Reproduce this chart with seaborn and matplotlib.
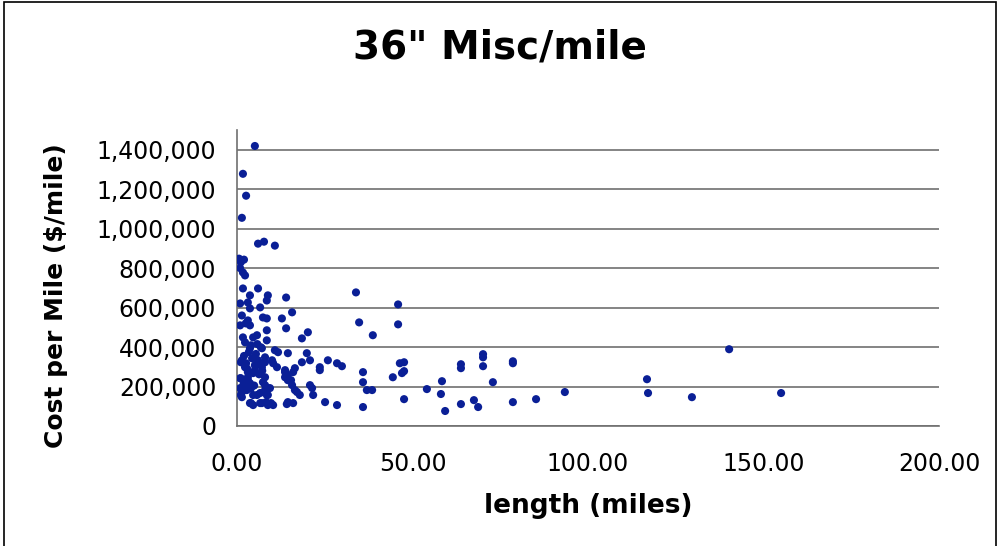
"""
36" Misc/mile -- cout par mile vs longueur du pipeline
"""

import matplotlib
matplotlib.use('Agg')
import matplotlib.pyplot as plt
from matplotlib.patches import Rectangle
from matplotlib.ticker import FuncFormatter, MultipleLocator
import seaborn as sns
import pandas as pd

# length (miles)
length_mi = [
    5.1, 1.7, 2.6, 1.4, 6.0, 7.7, 10.8, 0.6, 1.1, 2.0, 0.9, 1.7, 2.3,
    1.7, 3.7, 6.0, 8.8, 8.5, 0.9, 3.1, 14.0, 3.7, 6.6, 15.7, 1.4, 7.4, 8.5,
    12.8, 0.9, 3.1, 3.7, 8.5, 14.0, 20.2, 18.5, 1.7, 4.6, 5.7, 2.3, 8.5, 3.7,
    7.1, 10.8, 11.7, 14.5, 19.9, 1.4, 4.3, 6.0, 8.0, 10.0, 18.5, 20.8, 25.9,
    28.5, 29.9, 2.3, 5.1, 7.1, 11.4, 16.5, 23.6, 13.7, 16.0, 23.6, 0.9, 3.1,
    4.6, 8.0, 13.7, 14.5, 2.3, 3.7, 8.0, 8.8, 15.7, 20.8, 21.4, 1.4, 2.8, 5.7,
    6.6, 17.1, 17.9, 21.7, 1.4, 8.5, 25.1, 3.7, 4.6, 7.1, 8.8, 10.3, 14.2,
    16.0, 28.5,
    4.0, 6.8, 1.1, 2.6, 6.0, 8.0, 10.3, 3.1, 5.1, 13.7, 14.5, 1.1, 3.1, 7.4,
    15.4, 0.9, 2.3, 4.0, 8.0, 9.4, 16.5, 1.1, 4.6, 8.8, 4.0, 6.6, 8.3, 9.7,
    14.5, 2.0, 5.4, 2.9, 6.3, 1.9, 4.9, 3.4, 7.2, 2.5, 5.8,
    33.9, 45.9, 34.8, 45.9, 38.7, 35.9, 35.9, 37.0, 38.5, 35.9, 44.4, 46.4,
    47.6, 47.0, 47.6, 47.6, 54.1, 58.4, 58.1, 59.3, 63.8, 63.8, 63.8, 70.1,
    70.1, 70.1, 67.5, 68.7, 72.9, 78.6, 78.6, 78.6, 85.2, 93.4, 116.8, 117.1,
    129.6, 140.2, 155.0,
]

# Cost per Mile ($/mile)
cost_per_mile = [
    1419000, 1278000, 1167000, 1055000, 924000, 934000, 914000, 848000,
    830000, 843000, 800000, 778000, 763000,
    697000, 662000, 697000, 662000, 636000, 621000, 626000, 651000, 596000,
    601000, 576000, 560000, 550000, 545000, 545000, 510000, 535000, 510000,
    485000, 495000, 475000, 444000, 449000, 449000, 460000, 424000, 434000,
    394000, 394000, 384000, 374000, 369000, 369000, 333000, 343000, 333000,
    348000, 333000, 323000, 333000, 333000, 318000, 303000, 298000, 308000,
    298000, 298000, 293000, 298000, 273000, 273000, 283000, 242000, 247000,
    268000, 247000, 247000, 232000, 207000, 217000, 207000, 192000, 207000,
    207000, 192000, 172000, 182000, 157000, 167000, 172000, 157000, 157000,
    146000, 157000, 121000, 116000, 106000, 116000, 106000, 106000, 111000,
    116000, 106000,
    409000, 399000, 323000, 318000, 318000, 323000, 318000, 273000, 283000,
    283000, 258000, 242000, 232000, 222000, 232000, 192000, 182000, 192000,
    182000, 192000, 182000, 157000, 157000, 157000, 116000, 116000, 121000,
    116000, 121000, 355000, 365000, 290000, 262000, 215000, 205000, 375000,
    280000, 520000, 415000,
    677000, 616000, 525000, 515000, 460000, 273000, 222000, 182000, 182000,
    96000, 247000, 318000, 323000, 268000, 278000, 136000, 187000, 227000,
    162000, 76000, 313000, 293000, 111000, 364000, 348000, 303000, 131000,
    96000, 222000, 328000, 318000, 121000, 136000, 172000, 237000, 167000,
    146000, 389000, 167000,
]

df = pd.DataFrame({'length': length_mi, 'cost': cost_per_mile})

sns.set_style('white')
plt.rcParams['font.family'] = ['DejaVu Sans']
plt.rcParams['text.color'] = 'black'
plt.rcParams['axes.labelcolor'] = 'black'

fig = plt.figure(figsize=(9.99, 5.46), dpi=100)
ax = fig.add_axes([0.2372, 0.2198, 0.7028, 0.5421])

sns.scatterplot(data=df, x='length', y='cost', ax=ax, color='#0A1F96',
                edgecolor='none', s=34, legend=False, zorder=3)

ax.set_xlim(0, 200)
ax.set_ylim(0, 1500000)
ax.xaxis.set_major_locator(MultipleLocator(50))
ax.yaxis.set_major_locator(MultipleLocator(200000))
ax.xaxis.set_major_formatter(FuncFormatter(lambda v, p: f'{v:.2f}'))
ax.yaxis.set_major_formatter(FuncFormatter(lambda v, p: f'{v:,.0f}'))

ax.grid(axis='y', color='#707070', linewidth=1.2)
ax.grid(axis='x', visible=False)
for side in ['top', 'right']:
    ax.spines[side].set_visible(False)
for side in ['left', 'bottom']:
    ax.spines[side].set_color('#707070')
    ax.spines[side].set_linewidth(1.2)

ax.tick_params(axis='both', direction='out', length=5, width=1,
               color='#505050', labelsize=17, labelcolor='black')
ax.tick_params(axis='x', pad=14)
ax.tick_params(axis='y', pad=10)

ax.set_xlabel('length (miles)', fontsize=19, fontweight='bold', labelpad=12)
ax.set_ylabel('Cost per Mile ($/mile)', fontsize=18, fontweight='bold')
ax.yaxis.set_label_coords(-0.24, 0.44)
fig.suptitle('36" Misc/mile', fontsize=28, fontweight='bold', y=0.948)

# cadre autour de la figure
fig.patches.append(Rectangle((0.004, -0.01), 0.993, 1.007,
                             transform=fig.transFigure, fill=False,
                             edgecolor='black', linewidth=1.2))

plt.savefig('out.png', dpi=100)
plt.close()
